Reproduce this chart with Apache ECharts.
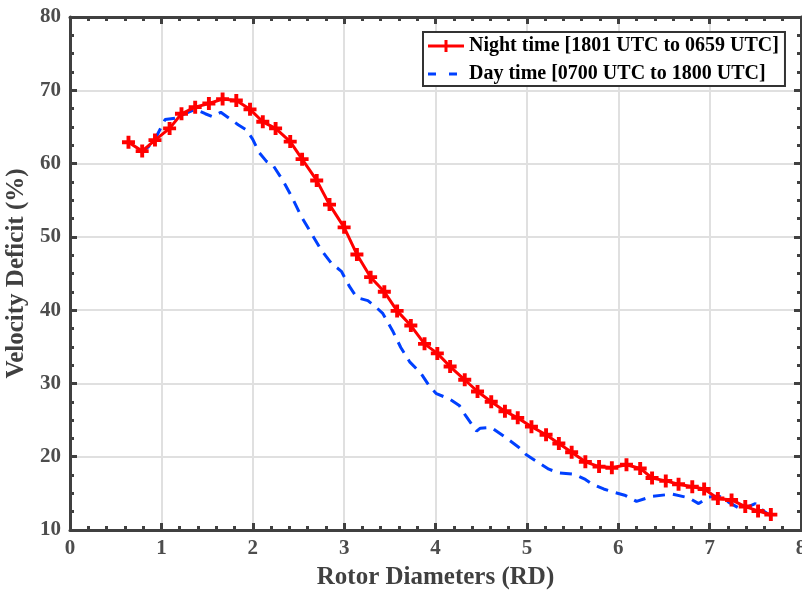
<!DOCTYPE html>
<html><head><meta charset="utf-8">
<script src="https://cdn.jsdelivr.net/npm/echarts@6/dist/echarts.min.js"></script>
<style>html,body{margin:0;padding:0;background:#fff}#c{width:802px;height:594px}</style>
</head><body><div id="c"></div>
<script>
const xTicks = [0,1,2,3,4,5,6,7,8];
const yTicks = [10,20,30,40,50,60,70,80];
const nightName = 'Night time [1801 UTC to 0659 UTC]';
const dayName = 'Day time [0700 UTC to 1800 UTC]';
const nightX = [0.64,0.79,0.93,1.09,1.22,1.37,1.52,1.67,1.82,1.97,2.11,2.25,2.41,2.54,2.70,2.84,3.00,3.14,3.29,3.44,3.58,3.73,3.88,4.02,4.16,4.32,4.46,4.61,4.76,4.90,5.05,5.21,5.35,5.49,5.64,5.79,5.93,6.09,6.24,6.37,6.52,6.66,6.81,6.94,7.09,7.24,7.39,7.53,7.67];
const nightY = [62.9,61.7,63.2,64.8,66.8,67.7,68.2,68.8,68.6,67.4,65.7,64.8,63.0,60.6,57.7,54.4,51.3,47.6,44.5,42.5,39.9,37.9,35.4,34.1,32.3,30.5,28.9,27.5,26.2,25.3,24.1,23.0,21.8,20.6,19.3,18.65,18.5,18.9,18.4,17.1,16.7,16.25,15.9,15.6,14.3,14.1,13.2,12.6,12.1];
const dayX = [0.77,0.86,0.95,1.04,1.15,1.26,1.37,1.48,1.56,1.65,1.73,1.84,1.93,2.00,2.07,2.15,2.22,2.33,2.43,2.53,2.64,2.75,2.86,2.97,3.06,3.14,3.26,3.34,3.42,3.53,3.62,3.72,3.84,3.93,4.01,4.15,4.26,4.33,4.41,4.45,4.49,4.61,4.77,4.91,4.99,5.10,5.24,5.35,5.52,5.64,5.71,5.84,5.97,6.08,6.20,6.37,6.59,6.77,6.88,6.99,7.10,7.22,7.35,7.50,7.59,7.66,7.71];
const dayY = [61.5,62.3,63.8,66.0,66.2,66.8,67.4,66.8,66.4,67.0,66.3,65.3,64.6,63.3,61.5,60.3,59.8,57.7,55.4,52.8,50.5,48.2,46.4,45.3,43.2,41.7,41.3,40.5,39.6,37.2,34.9,32.9,31.4,29.7,28.6,27.9,27.0,25.6,24.2,23.5,23.9,24.0,22.6,21.3,20.3,19.4,18.3,17.8,17.6,16.9,16.3,15.6,15.1,14.7,13.9,14.6,14.9,14.4,13.6,14.5,14.65,13.7,12.8,13.6,12.6,12.0,12.1];

const FONT = 'Liberation Serif';
const AX = '#404040';
const plus = 'path://M3.5,0h3v3.5h3.5v3h-3.5v3.5h-3v-3.5h-3.5v-3h3.5z';
const chart = echarts.init(document.getElementById('c'), null, {renderer:'canvas'});
const lbl = {show:true,color:'#4d4d4d',fontFamily:FONT,fontWeight:'bold',fontSize:21};
function axisCommon() {
  return {
    axisLine:{show:true,onZero:false,lineStyle:{color:AX,width:3}},
    axisTick:{show:true,inside:true,length:7,lineStyle:{color:AX,width:3}},
  };
}
const option = {
  animation:false,
  backgroundColor:'#fff',
  grid:{left:70,right:1,top:17,bottom:64,containLabel:false,outerBoundsMode:'none'},
  xAxis:[
    Object.assign(axisCommon(),{type:'value',min:xTicks[0],max:xTicks[xTicks.length-1],interval:1,position:'bottom',
      name:'Rotor Diameters (RD)',nameLocation:'middle',nameGap:35,
      nameTextStyle:{color:AX,fontFamily:FONT,fontWeight:'bold',fontSize:25},
      axisLabel:Object.assign({margin:8},lbl),
      minorTick:{show:true,splitNumber:5,length:4,lineStyle:{color:AX,width:3}},
      splitLine:{show:true,lineStyle:{color:'#e0e0e0',width:2}}}),
    Object.assign(axisCommon(),{type:'value',min:0,max:8,interval:1,position:'top',
      axisLabel:{show:false},
      minorTick:{show:true,splitNumber:5,length:4,lineStyle:{color:AX,width:3}},
      splitLine:{show:false}})
  ],
  yAxis:[
    Object.assign(axisCommon(),{type:'value',min:yTicks[0],max:yTicks[yTicks.length-1],interval:10,position:'left',
      name:'Velocity Deficit (%)',nameLocation:'middle',nameGap:35,
      nameTextStyle:{color:AX,fontFamily:FONT,fontWeight:'bold',fontSize:25},
      axisLabel:Object.assign({margin:9},lbl),
      minorTick:{show:true,splitNumber:4,length:4,lineStyle:{color:AX,width:3}},
      splitLine:{show:true,lineStyle:{color:'#e0e0e0',width:2}}}),
    Object.assign(axisCommon(),{type:'value',min:10,max:80,interval:10,position:'right',
      axisLabel:{show:false},
      minorTick:{show:true,splitNumber:4,length:4,lineStyle:{color:AX,width:3}},
      splitLine:{show:false}})
  ],
  legend:{
    show:true,left:423,top:32,orient:'vertical',
    backgroundColor:'#fff',borderColor:'#333',borderWidth:2,borderRadius:0,
    padding:[4,6,2,5],itemGap:8,itemWidth:36,itemHeight:12,
    textStyle:{color:'#000',fontFamily:FONT,fontWeight:'bold',fontSize:20},
    data:[
      {name:nightName,icon:'path://M0,4.5h16.5v-4.5h3v4.5h16.5v3h-16.5v4.5h-3v-4.5h-16.5z',itemStyle:{color:'#ff0000'}},
      {name:dayName,icon:'path://M0,0h0.01v0.01h-0.01zM0,4.5h8v3h-8zM21,4.5h8v3h-8zM35.99,11.99h0.01v0.01h-0.01z',itemStyle:{color:'#0040ff'}}
    ]
  },
  series:[
    {name:dayName,type:'line',xAxisIndex:0,yAxisIndex:0,showSymbol:false,symbol:'none',
      data:dayX.map((x,i)=>[x,dayY[i]]),
      lineStyle:{color:'#0040ff',width:3,type:[12,8]},itemStyle:{color:'#0040ff'},z:2},
    {name:nightName,type:'line',xAxisIndex:0,yAxisIndex:0,symbol:plus,symbolSize:13,
      data:nightX.map((x,i)=>[x,nightY[i]]),
      lineStyle:{color:'#ff0000',width:3},itemStyle:{color:'#ff0000'},z:3}
  ]
};
chart.setOption(option);
</script></body></html>
